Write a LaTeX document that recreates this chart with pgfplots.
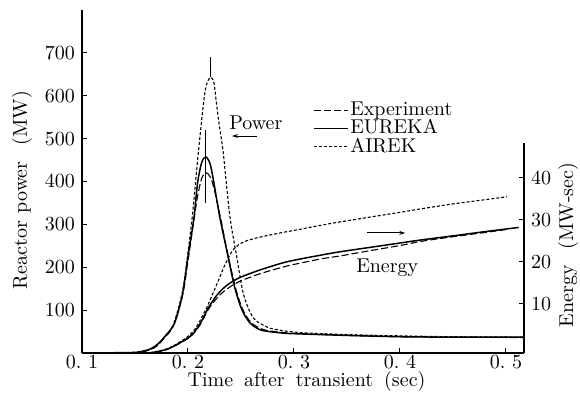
\documentclass[border=0pt]{standalone}
\usepackage{pgfplots}
\pgfplotsset{compat=1.18}
\usetikzlibrary{arrows.meta}

% line styles of the three results
\tikzset{
  expstyle/.style={black, line width=0.55pt, dash pattern=on 3.5pt off 1.5pt},
  eurstyle/.style={black, line width=0.75pt},
  airstyle/.style={black, line width=0.55pt, dash pattern=on 1.5pt off 1pt},
}

\begin{document}
\begin{tikzpicture}
\useasboundingbox (-41pt,-24pt) rectangle (249pt,176.5pt);

% ---------------- reactor power (left scale) ----------------
\begin{axis}[
  at={(0,0)}, anchor=south west,
  scale only axis, width=221pt, height=171.5pt,
  xmin=0.1, xmax=0.517, ymin=0, ymax=800,
  axis x line*=bottom, axis y line*=left,
  axis line style={line width=0.6pt},
  xtick={0.1,0.2,0.3,0.4,0.5},
  xticklabels={0.\ 1,0.\ 2,0.\ 3,0.\ 4,0.\ 5},
  xticklabel style={yshift=2.5pt},
  ytick={100,200,300,400,500,600,700},
  tick align=inside, major tick length=2.5pt,
  tick style={black, line width=0.5pt},
  xlabel={Time\hspace{0.55em}after\hspace{0.55em}transient\hspace{0.55em}(sec)},
  xlabel style={at={(axis description cs:0.508,0)}, anchor=center, yshift=-14.5pt},
  ylabel={Reactor\hspace{0.4em}power\hspace{0.8em}(MW)},
  ylabel style={at={(axis description cs:-0.136,0.475)}, anchor=center},
  legend style={draw=none, fill=none, at={(0.523,0.737)}, anchor=north west,
    inner sep=0pt, row sep=-0.6pt, nodes={inner sep=0.6pt}, cells={anchor=west}},
  legend image code/.code={\draw[#1] (0pt,0pt) -- (17pt,0pt);},
]
% Experiment
\addplot[expstyle, smooth] coordinates {
(0.1,0) (0.15,0.5) (0.16,4) (0.17,15) (0.178,36) (0.186,62) (0.195,135)
(0.2,215) (0.205,300) (0.209,365) (0.213,408) (0.2175,420) (0.222,405)
(0.226,368) (0.231,312) (0.237,237) (0.245,150) (0.252,100) (0.26,70)
(0.272,54) (0.29,48) (0.3,46) (0.35,41) (0.4,38) (0.45,37) (0.517,36)};
\addlegendentry{Experiment}
% EUREKA
\addplot[eurstyle, smooth] coordinates {
(0.1,0) (0.145,1) (0.155,3) (0.165,10) (0.172,22) (0.178,38) (0.186,63)
(0.19,90) (0.195,140) (0.2,225) (0.2057,317) (0.209,396) (0.213,445)
(0.217,457) (0.221,440) (0.2245,396) (0.230,317) (0.2365,240) (0.244,154)
(0.251,100) (0.2585,70) (0.265,58) (0.271,52) (0.287,47) (0.3,45)
(0.35,41) (0.4,38) (0.45,37) (0.517,37)};
\addlegendentry{EUREKA}
% AIREK
\addplot[airstyle, smooth] coordinates {
(0.1,0) (0.145,1) (0.16,5) (0.17,16) (0.178,38) (0.186,65) (0.195,145)
(0.2,235) (0.204,317) (0.207,395) (0.210,473) (0.215,590) (0.218,630)
(0.2217,643) (0.2245,630) (0.2265,590) (0.229,540) (0.233,473) (0.236,400)
(0.2396,317) (0.243,265) (0.246,224) (0.249,180) (0.252,140) (0.256,110)
(0.261,84) (0.266,72) (0.271,65) (0.277,58) (0.285,54) (0.293,51)
(0.31,47) (0.35,43) (0.4,40) (0.45,38) (0.517,37)};
\addlegendentry{AIREK}
% peak markers
\addplot[forget plot, black, line width=0.5pt] coordinates {(0.2217,643) (0.2217,690)};
\addplot[forget plot, black, line width=0.5pt] coordinates {(0.2167,350) (0.2167,520)};

\node at (axis cs:0.264,536) {Power};
\draw[black, line width=0.5pt, -{Stealth[length=3pt,width=2pt]}] (axis cs:0.265,506) -- (axis cs:0.2415,506);
\node at (axis cs:0.388,198) {Energy};
\draw[black, line width=0.5pt, -{Stealth[length=3pt,width=2pt]}] (axis cs:0.369,280) -- (axis cs:0.405,280);
\end{axis}

% ---------------- released energy (right scale) ----------------
\begin{axis}[
  at={(0,0)}, anchor=south west,
  scale only axis, width=221pt, height=105pt,
  xmin=0.1, xmax=0.517, ymin=-1.67, ymax=48.3,
  axis x line=none, axis y line*=right,
  axis line style={line width=0.6pt},
  ytick={10,20,30,40},
  tick align=inside, major tick length=2.5pt,
  tick style={black, line width=0.5pt},
  ylabel={Energy\hspace{0.8em}(MW-sec)},
  ylabel style={at={(axis description cs:1.1,0.514)}, anchor=center},
]
% Experiment
\addplot[expstyle, smooth] coordinates {
(0.15,-1.67) (0.165,-1.6) (0.18,-0.85) (0.192,0.6) (0.2,1.8) (0.205,2.9)
(0.21,4.5) (0.215,6.7) (0.218,8.2) (0.222,9.7) (0.227,11.3) (0.232,12.6)
(0.237,13.6) (0.243,14.6) (0.249,15.4) (0.256,16.1) (0.268,17.2)
(0.287,18.6) (0.3,19.4) (0.325,20.7) (0.343,21.4) (0.37,22.6) (0.4,23.9)
(0.42,24.9) (0.45,26.0) (0.48,27.0) (0.5,27.7)};
% EUREKA
\addplot[eurstyle, smooth] coordinates {
(0.15,-1.67) (0.165,-1.6) (0.18,-0.8) (0.192,0.7) (0.2,1.9) (0.205,3.0)
(0.21,4.7) (0.215,7.0) (0.218,8.6) (0.222,10.2) (0.227,12.0) (0.232,13.4)
(0.237,14.5) (0.243,15.5) (0.249,16.3) (0.256,17.0) (0.268,18.1)
(0.287,19.6) (0.3,20.4) (0.325,21.6) (0.343,22.4) (0.37,23.4) (0.4,24.5)
(0.419,25.2) (0.45,26.2) (0.48,27.2) (0.512,28.2)};
% AIREK
\addplot[airstyle, smooth] coordinates {
(0.15,-1.67) (0.165,-1.55) (0.18,-0.7) (0.192,0.9) (0.2,2.3) (0.205,3.5)
(0.21,5.4) (0.215,7.8) (0.218,9.3) (0.222,11.6) (0.226,14.0) (0.23,16.4)
(0.235,19.4) (0.241,22.3) (0.245,23.5) (0.249,24.3) (0.256,25.1)
(0.268,25.9) (0.287,26.9) (0.3,27.5) (0.325,28.7) (0.343,29.5) (0.37,30.6)
(0.4,31.8) (0.419,32.6) (0.45,33.8) (0.48,34.8) (0.501,35.5)};
\end{axis}
\end{tikzpicture}
\end{document}
